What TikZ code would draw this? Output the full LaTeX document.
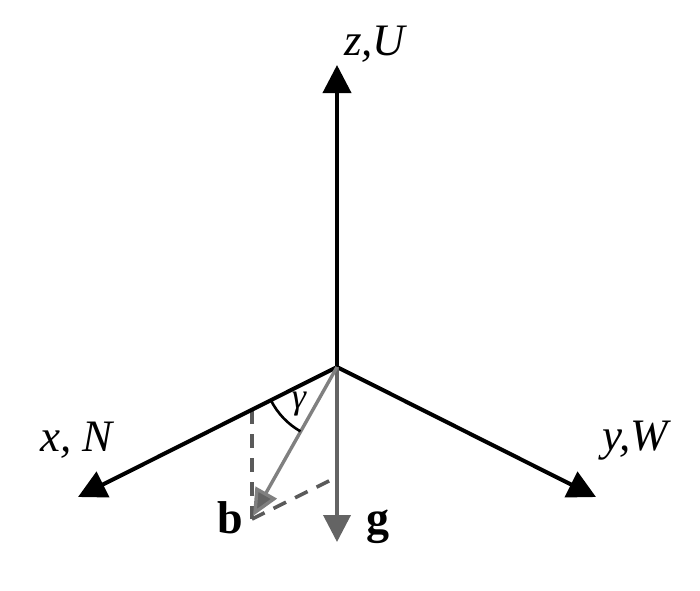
\documentclass[tikz,border=0pt]{standalone}
\usepackage{fontspec}
\setmainfont{Liberation Serif}
\usetikzlibrary{arrows.meta}
\definecolor{bgray}{RGB}{128,128,128}
\definecolor{ggray}{RGB}{100,100,100}
\definecolor{dgray}{RGB}{90,90,90}
\tikzset{
  axis/.style={line width=4pt, black, -{Triangle[length=28pt,width=28pt]}},
  gvec/.style={line width=3.8pt, ggray, -{Triangle[length=27pt,width=27pt]}},
  bvec/.style={line width=3.4pt, bgray, -{Triangle[length=27pt,width=24pt,fill=ggray]}},
  proj/.style={line width=3.6pt, dgray, dash pattern=on 14pt off 10pt},
  ital/.style={font=\fontsize{45}{52}\selectfont\itshape, inner sep=0pt, anchor=base west},
  bold/.style={font=\fontsize{46}{52}\selectfont\bfseries, inner sep=0pt, anchor=base west},
}
\begin{document}
\begin{tikzpicture}[x=1pt,y=-1pt]
\useasboundingbox (0,0) rectangle (700,590);
\coordinate (O) at (337,367);
\coordinate (Z) at (337,65);
\coordinate (X) at (78,497);
\coordinate (Y) at (596,497);
\coordinate (G) at (337,542);
\coordinate (B) at (253,516);
\coordinate (Bc) at (252,519);
\coordinate (Xp) at (252,410);
\coordinate (Gp) at (337,477);
\draw[proj] (Xp) -- (Bc);
\draw[proj] (Bc) -- (Gp);
\draw[axis] (O) -- (Z);
\draw[axis] (O) -- (X);
\draw[axis] (O) -- (Y);
\draw[gvec] (O) -- (G);
\draw[bvec] (O) -- (B);
\draw[line width=2.6pt, black] ([shift={(153.4:74)}]O) arc[start angle=153.4, end angle=119.6, radius=74];
\node[ital] (zl) at (344,55) {z,U};
\node[ital] (xl) at (40,451) {x, N};
\node[ital] (yl) at (602,450) {y,W};
\node[ital, font=\fontsize{36}{40}\selectfont\itshape, anchor=center] (gam) at (299,404) {γ};
\node[bold] (bl) at (217,533) {b};
\node[bold] (gl) at (366,533) {g};
\end{tikzpicture}
\end{document}
